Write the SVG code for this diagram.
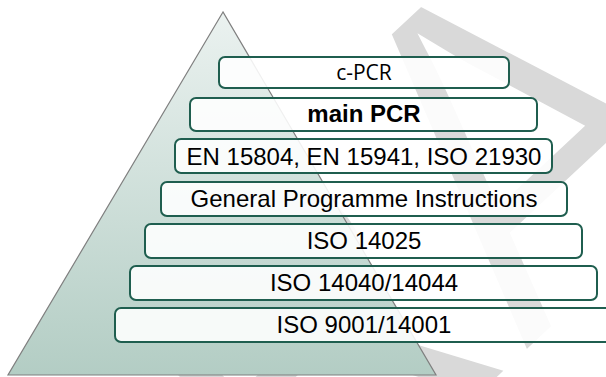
<svg xmlns="http://www.w3.org/2000/svg" width="606" height="377" viewBox="0 0 606 377">
  <defs>
    <linearGradient id="pyramidFill" x1="0" y1="0" x2="0" y2="1">
      <stop offset="0" stop-color="#ebf2f0"/>
      <stop offset="1" stop-color="#b3cdc4"/>
    </linearGradient>
  </defs>
  <style>
    .tier rect { fill: #ffffff; fill-opacity: 0.88; stroke: #1f5e4f; stroke-width: 2; }
    .tier text { font-family: "Liberation Sans", Arial, sans-serif; font-size: 24px; fill: #000000; text-anchor: middle; }
    .tier text.bold { font-weight: bold; }
    .tier text.humanist { font-family: "Open Sans", "Noto Sans", sans-serif; font-size: 21px; }
    /* white outline thins the huge glyphs so they read as light strokes */
    .watermark { font-family: "Liberation Sans", Arial, sans-serif; font-size: 480px; fill: #d9d9d9; stroke: #ffffff; stroke-width: 8; stroke-linejoin: miter; }
  </style>

  <rect width="606" height="377" fill="#ffffff"/>

  <!-- faint background watermark -->
  <text class="watermark" transform="translate(79,772) rotate(-43) scale(0.88,1)">DRAFT</text>

  <!-- pyramid -->
  <polygon id="pyramid" points="223,12 8,375 436,375" fill="url(#pyramidFill)" stroke="#7f7f7f" stroke-width="1.2"/>

  <!-- tiers, top to bottom -->
  <g id="tier-c-pcr" class="tier">
    <rect x="219" y="57" width="290" height="31" rx="6"/>
    <text class="humanist" x="364" y="80">c-PCR</text>
  </g>
  <g id="tier-main-pcr" class="tier">
    <rect x="190" y="98" width="347" height="33" rx="6"/>
    <text class="bold" x="364" y="122">main PCR</text>
  </g>
  <g id="tier-en" class="tier">
    <rect x="175" y="139" width="377" height="34" rx="6"/>
    <text x="364" y="164.5">EN 15804, EN 15941, ISO 21930</text>
  </g>
  <g id="tier-gpi" class="tier">
    <rect x="161" y="182" width="406" height="34" rx="6"/>
    <text x="364" y="206.5">General Programme Instructions</text>
  </g>
  <g id="tier-iso14025" class="tier">
    <rect x="145" y="224" width="437" height="34" rx="6"/>
    <text x="364" y="249">ISO 14025</text>
  </g>
  <g id="tier-iso14040" class="tier">
    <rect x="130" y="266" width="467" height="34" rx="6"/>
    <text x="364" y="291">ISO 14040/14044</text>
  </g>
  <g id="tier-iso9001" class="tier">
    <rect x="115" y="308" width="497" height="34" rx="6"/>
    <text x="364" y="332.5">ISO 9001/14001</text>
  </g>

  <!-- no connectors in this diagram -->
  <g id="connectors"/>
</svg>
